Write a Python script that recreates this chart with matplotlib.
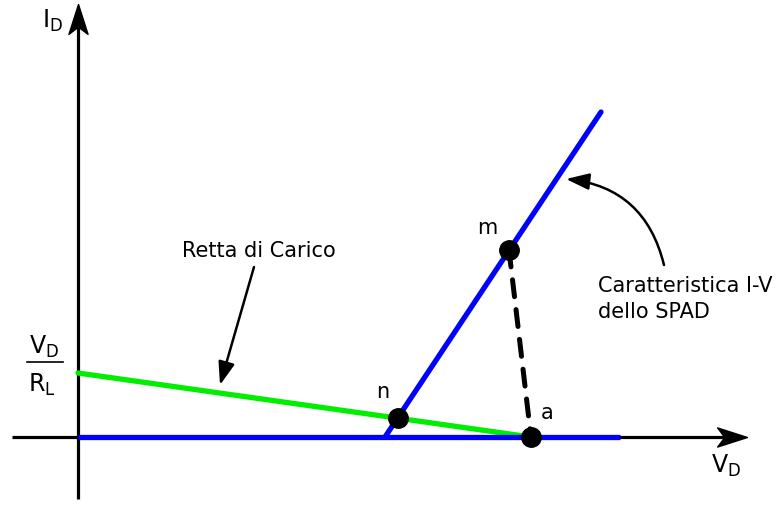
import numpy as np
import matplotlib.pyplot as plt
from matplotlib.patches import FancyArrowPatch
from matplotlib.path import Path
from matplotlib.transforms import Affine2D

# operating points (V, I) in drawing units, origin at the axes crossing
v_bd = 307            # where the SPAD characteristic leaves the V axis
spad_top = (523, 325)
v_a = 453             # bias point "a"
i_load0 = 64          # V_D / R_L intercept of the load line
pt_names = ['n', 'm', 'a']
pt_v = [320, 431, 453]
pt_i = [19, 187, 0]

fig = plt.figure(figsize=(7.84, 5.10), dpi=100)
ax = fig.add_axes([0, 0, 1, 1])
ax.set_xlim(-78, 706)
ax.set_ylim(-72, 438)
ax.axis('off')

# notched arrowhead marker pointing right
head = Path([(0, 0), (-1, 0.32), (-0.76, 0), (-1, -0.32), (0, 0)],
            [Path.MOVETO, Path.LINETO, Path.LINETO, Path.LINETO, Path.CLOSEPOLY])
head_up = head.transformed(Affine2D().rotate_deg(90))

# axes
ax.plot([-66, 660], [0, 0], color='black', lw=2.3, solid_capstyle='butt', zorder=1)
ax.plot([0, 0], [-62, 420], color='black', lw=2.3, solid_capstyle='butt', zorder=1)
ax.plot([669], [0], marker=head, markersize=43, color='black', zorder=1)
ax.plot([0], [433], marker=head_up, markersize=43, color='black', zorder=1)

# SPAD I-V characteristic
ax.plot([0, 542], [0, 0], color='#0000ff', lw=3.8, solid_capstyle='butt', zorder=3)
ax.plot([v_bd, spad_top[0]], [0, spad_top[1]], color='#0000ff', lw=3.8,
        solid_capstyle='round', zorder=3)

# load line
ax.plot([0, v_a], [i_load0, 0], color='#00ee00', lw=3.8, solid_capstyle='round', zorder=2)

# recovery path m -> a
ax.plot([pt_v[1], pt_v[2]], [pt_i[1], pt_i[2]], color='black', lw=3.6,
        linestyle=(0, (3.4, 2.6)), dash_capstyle='round', zorder=2)

ax.plot(pt_v, pt_i, 'o', color='black', markersize=14, zorder=4)
label_off = {'n': (-15, 27), 'm': (-22, 23), 'a': (16, 25)}
for name, v, i in zip(pt_names, pt_v, pt_i):
    dx, dy = label_off[name]
    ax.text(v + dx, i + dy, name, fontsize=15, ha='center', va='center')

# axis labels
ax.text(-26, 417, r'$\mathrm{I_D}$', fontsize=17, ha='center', va='center')
ax.text(648, -28, r'$\mathrm{V_D}$', fontsize=17, ha='center', va='center')
ax.text(-34, 91, r'$\mathrm{V_D}$', fontsize=17, ha='center', va='center')
ax.plot([-51, -15], [75, 75], color='black', lw=1.2)
ax.text(-36, 53, r'$\mathrm{R_L}$', fontsize=17, ha='center', va='center')

# annotations
ax.text(181, 187, 'Retta di Carico', fontsize=15, ha='center', va='center')
ax.add_patch(FancyArrowPatch((176, 170), (142, 52), arrowstyle='-|>,head_length=1.4,head_width=0.5',
                             mutation_scale=10, color='black', lw=1.8, shrinkA=0, shrinkB=0))
ax.text(520, 139, 'Caratteristica I-V\ndello SPAD', fontsize=15, ha='left', va='center',
        linespacing=1.35)
ax.add_patch(FancyArrowPatch((586, 172), (488, 258), connectionstyle='arc3,rad=0.35',
                             arrowstyle='-|>,head_length=1.4,head_width=0.5',
                             mutation_scale=10, color='black', lw=1.8, shrinkA=0, shrinkB=0))

fig.savefig('out.png', dpi=100)
